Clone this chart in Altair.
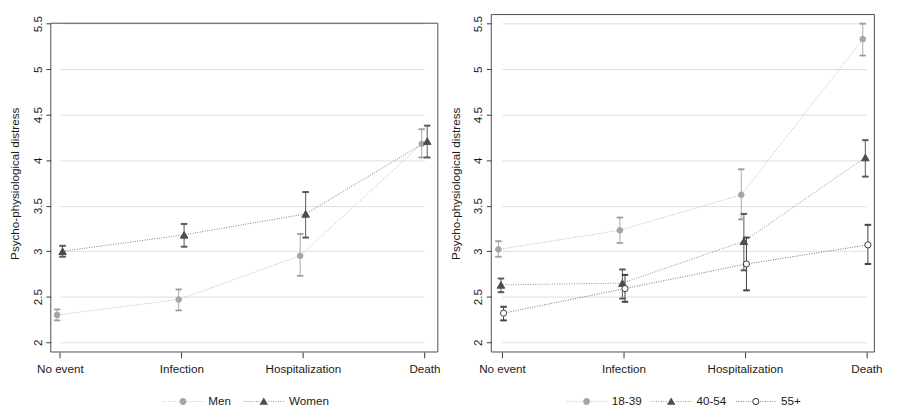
import altair as alt
import pandas as pd

categories = ["No event", "Infection", "Hospitalization", "Death"]
y_ticks = [2, 2.5, 3, 3.5, 4, 4.5, 5, 5.5]

sex_groups = ["Men", "Women"]
men_mean = [2.30, 2.47, 2.95, 4.18]
men_lo = [2.24, 2.35, 2.73, 4.03]
men_hi = [2.36, 2.58, 3.19, 4.34]
women_mean = [3.00, 3.18, 3.41, 4.21]
women_lo = [2.94, 3.05, 3.15, 4.03]
women_hi = [3.06, 3.30, 3.65, 4.38]

age_groups = ["18-39", "40-54", "55+"]
a1_mean = [3.02, 3.23, 3.62, 5.33]
a1_lo = [2.94, 3.09, 3.35, 5.15]
a1_hi = [3.11, 3.37, 3.90, 5.50]
a2_mean = [2.63, 2.65, 3.11, 4.03]
a2_lo = [2.55, 2.48, 2.79, 3.82]
a2_hi = [2.70, 2.80, 3.41, 4.22]
a3_mean = [2.32, 2.59, 2.86, 3.07]
a3_lo = [2.24, 2.445, 2.57, 2.86]
a3_hi = [2.39, 2.74, 3.15, 3.29]

FONT = "Liberation Sans"
TXT = "#1a1a1a"
SYM = 1764          # legend symbol box: 42 px wide
U = 1 / 21          # one pixel in legend-symbol units


def dotted_segment():
    w = 0.8 * U
    parts = []
    for px in [-20, -17.5, -15, -12.5, -10, -7.5, -5, 5, 7.5, 10, 12.5, 15, 17.5, 20]:
        u = px * U
        parts.append(f"M{u - w / 2:.4f},{-w / 2:.4f}h{w:.4f}v{w:.4f}h{-w:.4f}Z")
    return "".join(parts)


DOTS = dotted_segment()
LEG_CIRCLE = DOTS + "M-0.171,0A0.171,0.171,0,1,1,0.171,0A0.171,0.171,0,1,1,-0.171,0Z"
LEG_RING = LEG_CIRCLE + "M-0.124,0A0.124,0.124,0,1,0,0.124,0A0.124,0.124,0,1,0,-0.124,0Z"
LEG_TRI = DOTS + "M0,-0.2L0.21,0.155L-0.21,0.155Z"

Y_DOMAIN = [1.893, 5.6]
H = 347


def build_df(groups, means, los, his):
    rows = []
    for g, m, lo, hi in zip(groups, means, los, his):
        for c, mv, lv, hv in zip(categories, m, lo, hi):
            rows.append({"event": c, "group": g, "grp": g, "mean": mv, "lo": lv, "hi": hv})
    return pd.DataFrame(rows)


def panel(df, groups, line_colors, bar_colors, marker_styles, legend_fills, legend_shapes,
          offsets, width, x_range, frame_top, legend_x, col_pad):
    x_enc = alt.X("event:N", sort=categories,
                  scale=alt.Scale(type="point", range=x_range, padding=0),
                  axis=alt.Axis(title=None, labelAngle=0, domain=False, ticks=True,
                                tickSize=6, tickColor="#333333", labelPadding=6,
                                labelFontSize=12, labelColor=TXT, grid=False))
    xo = alt.XOffset("grp:N", scale=alt.Scale(type="point", range=offsets, padding=0))
    y_scale = alt.Scale(domain=Y_DOMAIN, nice=False, zero=False)
    y_axis = alt.Axis(values=y_ticks, format="~g", labelAngle=270, labelAlign="center",
                      labelBaseline="bottom", labelPadding=2, tickSize=5,
                      tickColor="#333333", domain=False, grid=True,
                      gridColor="#dedede", gridWidth=1, labelFontSize=12,
                      labelColor=TXT, title="Psycho-physiological distress",
                      titleFontSize=12, titleFontWeight="normal", titleColor=TXT,
                      titlePadding=10)
    base = alt.Chart(df)
    lines = base.mark_line(strokeDash=[1, 1.5], strokeWidth=1).encode(
        x=x_enc, xOffset=xo,
        y=alt.Y("mean:Q", scale=y_scale, axis=y_axis),
        color=alt.Color("group:N", scale=alt.Scale(range=line_colors), legend=None),
    )
    bar_stroke = alt.Stroke("grp:N", scale=alt.Scale(range=bar_colors), legend=None)
    rules = base.mark_rule(strokeWidth=1).encode(
        x=x_enc, xOffset=xo, y=alt.Y("lo:Q", scale=y_scale), y2="hi:Q",
        stroke=bar_stroke,
    )
    caps_lo = base.mark_tick(size=6, thickness=1, opacity=1).encode(
        x=x_enc, xOffset=xo, y=alt.Y("lo:Q", scale=y_scale), stroke=bar_stroke,
    )
    caps_hi = base.mark_tick(size=6, thickness=1, opacity=1).encode(
        x=x_enc, xOffset=xo, y=alt.Y("hi:Q", scale=y_scale), stroke=bar_stroke,
    )
    # legend-only layer (invisible marks, visible legend symbols with dotted line + marker)
    leg = alt.Legend(orient="none", legendX=legend_x, legendY=377,
                     direction="horizontal", symbolSize=SYM, labelFontSize=12,
                     labelOffset=5, columnPadding=col_pad, title=None, padding=0,
                     labelColor=TXT, symbolOpacity=1, symbolStrokeWidth=0)
    legend_layer = base.mark_point(filled=True, size=SYM, opacity=0, strokeWidth=0).encode(
        x=x_enc, xOffset=xo, y=alt.Y("mean:Q", scale=y_scale),
        fill=alt.Fill("grp:N", scale=alt.Scale(range=legend_fills), legend=leg),
        shape=alt.Shape("grp:N", scale=alt.Scale(range=legend_shapes), legend=leg),
    )
    point_layers = []
    for g, (shape, size, fill, stroke) in zip(groups, marker_styles):
        point_layers.append(
            base.transform_filter(alt.datum.grp == g).mark_point(
                shape=shape, size=size, filled=True, fill=fill, stroke=stroke,
                strokeWidth=1, opacity=1
            ).encode(x=x_enc, xOffset=xo, y=alt.Y("mean:Q", scale=y_scale))
        )
    frame_df = pd.DataFrame({"f": [0]})
    if frame_top is None:
        y_top = alt.value(0)
    else:
        y_top = alt.YDatum(frame_top, type="quantitative", scale=y_scale)
    frame = alt.Chart(frame_df).mark_rect(fill="transparent", stroke="#4a4a4a",
                                          strokeWidth=1).encode(
        x=alt.value(0), x2=alt.value(width), y=y_top, y2=alt.value(H))
    layers = [frame, lines, rules, caps_lo, caps_hi, legend_layer] + point_layers
    return alt.layer(*layers).properties(width=width, height=H)


left_df = build_df(sex_groups, [men_mean, women_mean], [men_lo, women_lo], [men_hi, women_hi])
right_df = build_df(age_groups, [a1_mean, a2_mean, a3_mean], [a1_lo, a2_lo, a3_lo],
                    [a1_hi, a2_hi, a3_hi])

left = panel(left_df, sex_groups, ["#b8b8b8", "#7a7a7a"], ["#a8a8a8", "#555555"],
             [("circle", 34, "#a6a6a6", "#a6a6a6"), ("triangle-up", 62, "#4d4d4d", "#4d4d4d")],
             ["#a6a6a6", "#4d4d4d"], [LEG_CIRCLE, LEG_TRI], [-2.8, 2.8], 398,
             [9.3, 384.3], 5.505, 115, 12)
right = panel(right_df, age_groups, ["#b8b8b8", "#8c8c8c", "#6e6e6e"],
              ["#a8a8a8", "#555555", "#3c3c3c"],
              [("circle", 34, "#a6a6a6", "#a6a6a6"), ("triangle-up", 62, "#4d4d4d", "#4d4d4d"),
               ("circle", 40, "#ffffff", "#383838")],
              ["#a6a6a6", "#4d4d4d", "#383838"], [LEG_CIRCLE, LEG_TRI, LEG_RING],
              [-3.7, 1.6], 394, [11.0, 385.7], None, 77, 9)

chart = alt.hconcat(left, right, spacing=1).resolve_scale(
    color="independent", stroke="independent", fill="independent",
    shape="independent", xOffset="independent", x="independent"
).resolve_legend(fill="independent", shape="independent").properties(
    padding={"left": 0, "top": 0, "right": 0, "bottom": 0}
).configure(font=FONT, background="white").configure_view(stroke="transparent")

chart.save("out.html", embed_options={"renderer": "svg", "actions": False})
